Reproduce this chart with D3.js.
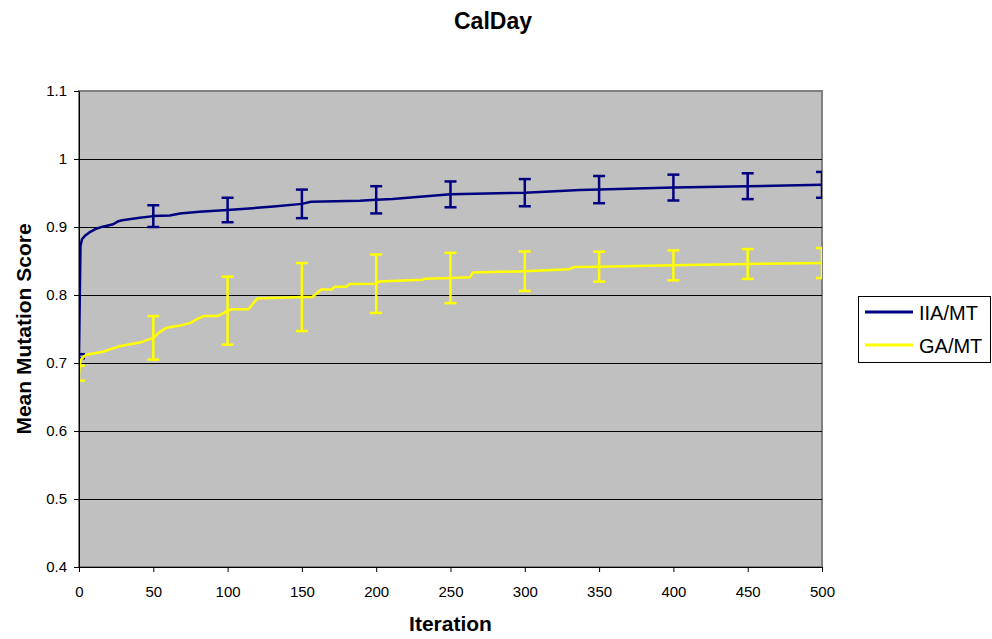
<!DOCTYPE html>
<html>
<head>
<meta charset="utf-8">
<script src="https://cdn.jsdelivr.net/npm/d3@7"></script>
<style>
  body { margin: 0; background: #fff; }
  svg text { font-family: "Liberation Sans", Arial, sans-serif; fill: #000; }
</style>
</head>
<body>
<div id="chart"></div>
<script>
// Values
const chartTitle = 'CalDay';
const xTicks = [0, 50, 100, 150, 200, 250, 300, 350, 400, 450, 500];
const xTickLabels = ['0', '50', '100', '150', '200', '250', '300', '350', '400', '450', '500'];
const yTicks = [0.4, 0.5, 0.6, 0.7, 0.8, 0.9, 1.0, 1.1];
const yTickLabels = ['0.4', '0.5', '0.6', '0.7', '0.8', '0.9', '1', '1.1'];

// [iteration, mean mutation score]
const iiaMt = [
  [0, 0.710], [1, 0.872], [2, 0.882], [4, 0.887], [7, 0.892], [11, 0.897],
  [16, 0.9005], [23, 0.904], [26, 0.908], [29, 0.910], [41, 0.9137], [50, 0.916],
  [61, 0.917], [68, 0.920], [81, 0.9225], [100, 0.925], [122, 0.9285], [131, 0.930],
  [150, 0.934], [156, 0.937], [189, 0.9387], [200, 0.940], [211, 0.941], [250, 0.948],
  [300, 0.9505], [337, 0.9544], [350, 0.955], [400, 0.958], [450, 0.960], [500, 0.962]
];
const gaMt = [
  [0, 0.685], [1, 0.704], [3, 0.709], [5, 0.712], [16, 0.7166], [27, 0.7245],
  [41, 0.730], [50, 0.737], [54, 0.745], [59, 0.752], [68, 0.755], [75, 0.759],
  [79, 0.764], [84, 0.769], [93, 0.769], [97, 0.773], [100, 0.777], [103, 0.779],
  [114, 0.779], [120, 0.795], [150, 0.797], [157, 0.797], [163, 0.808], [170, 0.808],
  [172, 0.812], [180, 0.812], [182, 0.816], [200, 0.8166], [202, 0.820], [231, 0.8225],
  [233, 0.824], [250, 0.825], [263, 0.826], [265, 0.833], [300, 0.835], [330, 0.838],
  [333, 0.841], [350, 0.8417], [400, 0.8436], [450, 0.8456], [500, 0.847]
];

// error bars every 50 iterations (half widths)
const errIterations = [0, 50, 100, 150, 200, 250, 300, 350, 400, 450, 500];
const iiaErr = [0.003, 0.016, 0.018, 0.021, 0.020, 0.019, 0.020, 0.020, 0.019, 0.019, 0.019];
const gaErr = [0.011, 0.032, 0.050, 0.050, 0.043, 0.037, 0.029, 0.022, 0.022, 0.022, 0.022];

const seriesNames = ['IIA/MT', 'GA/MT'];
const seriesColors = ['#000080', '#ffff00'];

class LineChart {

  constructor(_config) {
    this.config = {
      parentElement: _config.parentElement,
      containerWidth: 992,
      containerHeight: 639,
      margin: { top: 91, right: 170, bottom: 72, left: 79 }
    };
    this.series = [
      { name: seriesNames[0], color: seriesColors[0], values: iiaMt, err: iiaErr },
      { name: seriesNames[1], color: seriesColors[1], values: gaMt, err: gaErr }
    ];
    this.initVis();
  }

  initVis() {
    let vis = this;

    vis.svg = d3.select(vis.config.parentElement)
      .append('svg')
      .attr('width', vis.config.containerWidth)
      .attr('height', vis.config.containerHeight);

    vis.width = vis.config.containerWidth - vis.config.margin.left - vis.config.margin.right;
    vis.height = vis.config.containerHeight - vis.config.margin.top - vis.config.margin.bottom;

    vis.chartArea = vis.svg.append('g')
      .attr('transform', `translate(${vis.config.margin.left},${vis.config.margin.top})`);

    vis.xScale = d3.scaleLinear().domain([0, 500]).range([0, vis.width]);
    vis.yScale = d3.scaleLinear().domain([0.4, 1.1]).range([vis.height, 0]);

    // grey plot area
    vis.chartArea.append('rect')
      .attr('width', vis.width)
      .attr('height', vis.height)
      .attr('fill', '#c0c0c0')
      .attr('stroke', '#808080')
      .attr('stroke-width', 2);

    vis.svg.append('clipPath').attr('id', 'plot-clip')
      .append('rect')
      .attr('width', vis.width)
      .attr('height', vis.height);

    vis.renderVis();
  }

  renderVis() {
    let vis = this;

    // gridlines
    vis.chartArea.append('g')
      .selectAll('line')
      .data(yTicks.slice(1, -1))
      .join('line')
      .attr('x1', 0)
      .attr('x2', vis.width)
      .attr('y1', d => Math.round(vis.yScale(d)) + 0.5)
      .attr('y2', d => Math.round(vis.yScale(d)) + 0.5)
      .attr('stroke', '#000')
      .attr('stroke-width', 1);

    const plot = vis.chartArea.append('g').attr('clip-path', 'url(#plot-clip)');

    const line = d3.line()
      .x(d => vis.xScale(d[0]))
      .y(d => vis.yScale(d[1]));

    const valueAt = (values, it) => values.find(d => d[0] === it)[1];

    vis.series.forEach(s => {
      plot.append('path')
        .datum(s.values)
        .attr('fill', 'none')
        .attr('stroke', s.color)
        .attr('stroke-width', 2.5)
        .attr('stroke-linejoin', 'round')
        .attr('d', line);

      const bars = errIterations.map((it, i) => ({ x: it, y: valueAt(s.values, it), e: s.err[i] }));
      const eb = plot.append('g')
        .attr('stroke', s.color)
        .attr('stroke-width', 2.5)
        .selectAll('g')
        .data(bars)
        .join('g');
      eb.append('line')
        .attr('x1', d => vis.xScale(d.x))
        .attr('x2', d => vis.xScale(d.x))
        .attr('y1', d => vis.yScale(d.y - d.e))
        .attr('y2', d => vis.yScale(d.y + d.e));
      eb.append('line')
        .attr('x1', d => vis.xScale(d.x) - 6)
        .attr('x2', d => vis.xScale(d.x) + 6)
        .attr('y1', d => vis.yScale(d.y + d.e))
        .attr('y2', d => vis.yScale(d.y + d.e));
      eb.append('line')
        .attr('x1', d => vis.xScale(d.x) - 6)
        .attr('x2', d => vis.xScale(d.x) + 6)
        .attr('y1', d => vis.yScale(d.y - d.e))
        .attr('y2', d => vis.yScale(d.y - d.e));
    });

    // Axes
    vis.xAxis = d3.axisBottom(vis.xScale)
      .tickValues(xTicks)
      .tickFormat((d, i) => xTickLabels[i])
      .tickSize(5)
      .tickSizeOuter(0)
      .tickPadding(14);
    vis.yAxis = d3.axisLeft(vis.yScale)
      .tickValues(yTicks)
      .tickFormat((d, i) => yTickLabels[i])
      .tickSize(5)
      .tickSizeOuter(0)
      .tickPadding(7);

    const xg = vis.chartArea.append('g')
      .attr('transform', `translate(0,${vis.height})`)
      .call(vis.xAxis);
    const yg = vis.chartArea.append('g').call(vis.yAxis);
    [xg, yg].forEach(g => {
      g.selectAll('path, line').attr('stroke', '#000').attr('stroke-width', 1);
      g.selectAll('text').attr('font-size', 15).attr('font-family', null);
    });

    // Titles
    vis.svg.append('text')
      .attr('x', 493)
      .attr('y', 29)
      .attr('text-anchor', 'middle')
      .attr('font-size', 23)
      .attr('font-weight', 'bold')
      .text(chartTitle);

    vis.svg.append('text')
      .attr('x', vis.config.margin.left + vis.width / 2)
      .attr('y', 631)
      .attr('text-anchor', 'middle')
      .attr('font-size', 21)
      .attr('font-weight', 'bold')
      .text('Iteration');

    vis.svg.append('text')
      .attr('transform', `translate(31,${vis.config.margin.top + vis.height / 2}) rotate(-90)`)
      .attr('text-anchor', 'middle')
      .attr('font-size', 21)
      .attr('font-weight', 'bold')
      .text('Mean Mutation Score');

    // Legend
    const legend = vis.svg.append('g').attr('transform', 'translate(858,296)');
    legend.append('rect')
      .attr('x', 0.5)
      .attr('y', 0.5)
      .attr('width', 132)
      .attr('height', 66)
      .attr('fill', '#fff')
      .attr('stroke', '#000')
      .attr('stroke-width', 1);
    const items = legend.selectAll('g.item')
      .data(vis.series)
      .join('g')
      .attr('class', 'item')
      .attr('transform', (d, i) => `translate(0,${16 + i * 33})`);
    items.append('line')
      .attr('x1', 7)
      .attr('x2', 55)
      .attr('stroke', d => d.color)
      .attr('stroke-width', 3);
    items.append('text')
      .attr('x', 61)
      .attr('y', 8)
      .attr('font-size', 20)
      .text(d => d.name);
  }
}

new LineChart({ parentElement: '#chart' });
</script>
</body>
</html>
